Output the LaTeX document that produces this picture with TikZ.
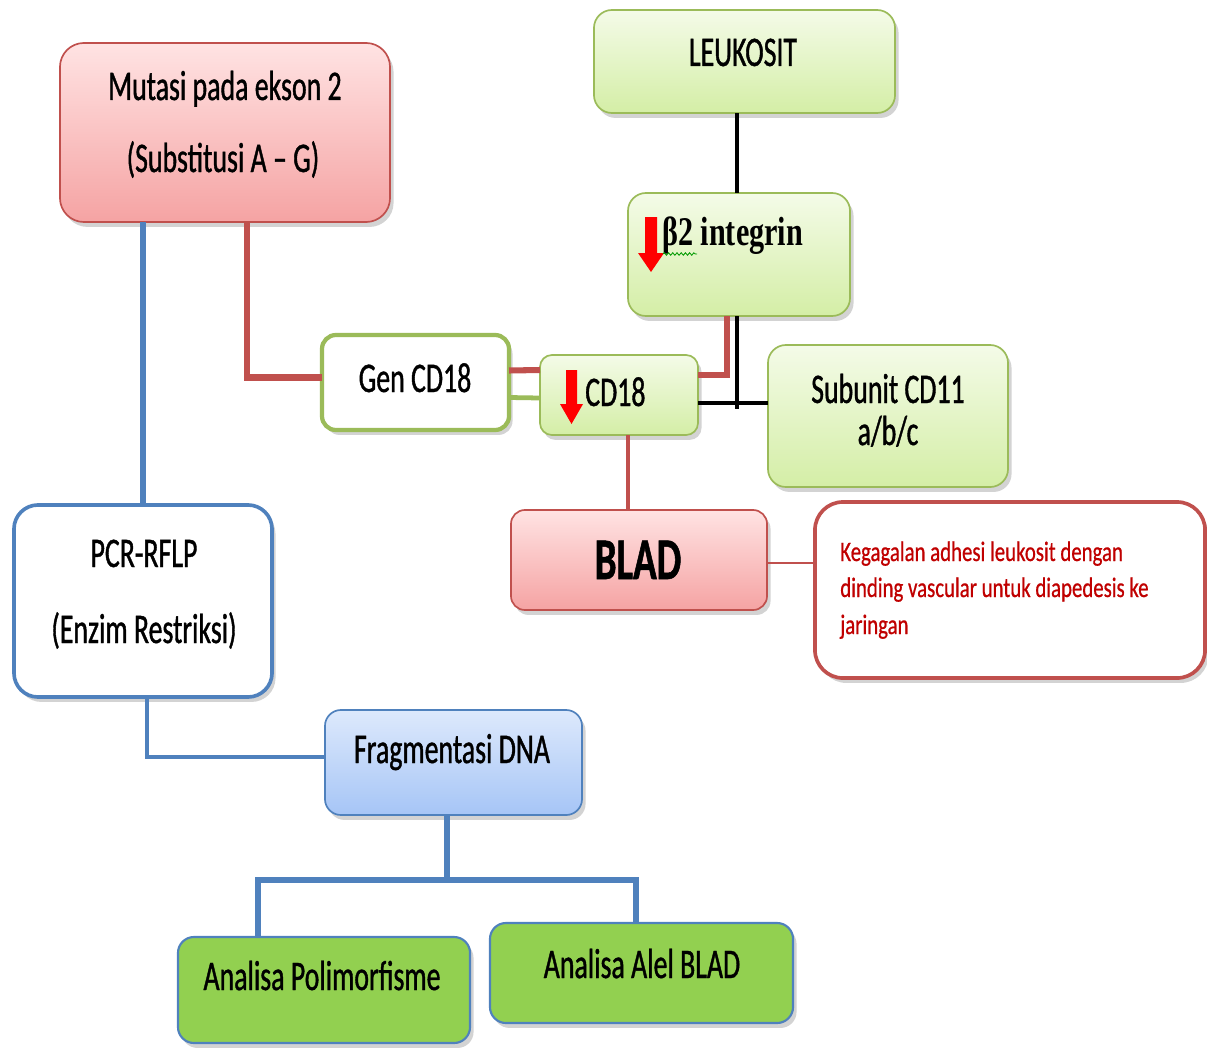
\documentclass[tikz,border=0pt]{standalone}
\usepackage{fontspec}
\setmainfont{Carlito}
\newfontfamily\calfont{Carlito}[FakeStretch=0.66, FakeBold=0.9]
\newfontfamily\calsmall{Carlito}[FakeStretch=0.74, FakeBold=0.6]
\newfontfamily\serffont{Liberation Serif}[FakeStretch=0.74]
\usetikzlibrary{shadows,calc,decorations.pathmorphing}
\definecolor{pinkT}{HTML}{FFE3E3}
\definecolor{pinkB}{HTML}{F5A3A3}
\definecolor{redB}{HTML}{C0504D}
\definecolor{grnT}{HTML}{F4FBE8}
\definecolor{grnB}{HTML}{D4EEA6}
\definecolor{grnBd}{HTML}{9BBB59}
\definecolor{bluT}{HTML}{DDE9FC}
\definecolor{bluB}{HTML}{A6C5F6}
\definecolor{bluBd}{HTML}{4F81BD}
\definecolor{limeF}{HTML}{92D050}
\definecolor{txtred}{HTML}{C00000}
\tikzset{
  boxbase/.style={rounded corners=0.45cm, inner sep=0pt, outer sep=0pt,
    drop shadow={opacity=0.35, shadow xshift=2.5pt, shadow yshift=-3.5pt}},
  pinkbox/.style={boxbase, draw=redB, line width=1.2pt, top color=pinkT, bottom color=pinkB},
  greenbox/.style={boxbase, draw=grnBd, line width=1.2pt, top color=grnT, bottom color=grnB},
  bluebox/.style={boxbase, draw=bluBd, line width=1.2pt, top color=bluT, bottom color=bluB},
  limebox/.style={boxbase, draw=bluBd, line width=1.5pt, fill=limeF},
  whitegreen/.style={boxbase, draw=grnBd, line width=3pt, fill=white},
  whiteblue/.style={boxbase, draw=bluBd, line width=2.6pt, fill=white},
  whitered/.style={boxbase, draw=redB, line width=2.6pt, fill=white},
  lbl/.style={font=\calfont\fontsize{30}{36}\selectfont, inner sep=0pt, anchor=base},
  redtxt/.style={font=\calsmall\fontsize{20}{26}\selectfont, text=txtred, inner sep=0pt, anchor=base west},
  redline/.style={draw=redB, line width=4.3pt},
  blueline/.style={draw=bluBd, line width=3.6pt},
  blkline/.style={draw=black, line width=2.3pt},
  downarrow/.style={fill=red, draw=none},
}
\begin{document}
\begin{tikzpicture}[x=0.025cm,y=-0.025cm]
\useasboundingbox (0,0) rectangle (1207,1057);
% boxes
\node[pinkbox, minimum width=8.25cm, minimum height=4.475cm, rounded corners=0.6cm] (mut) at (225,132.5) {};
\node[greenbox, minimum width=7.525cm, minimum height=2.575cm] (leuk) at (744.5,61.5) {};
\node[greenbox, minimum width=5.55cm, minimum height=3.075cm] (beta) at (739,254.5) {};
\node[whitegreen, minimum width=4.675cm, minimum height=2.375cm, rounded corners=0.35cm] (gen) at (415.5,382.5) {};
\node[greenbox, minimum width=3.95cm, minimum height=2.0cm, rounded corners=0.3cm] (cd) at (619,395) {};
\node[greenbox, minimum width=6.0cm, minimum height=3.55cm] (sub) at (888,416) {};
\node[pinkbox, minimum width=6.4cm, minimum height=2.5cm, rounded corners=0.35cm] (blad) at (639,560) {};
\node[whitered, minimum width=9.75cm, minimum height=4.4cm, rounded corners=0.7cm] (keg) at (1010,590) {};
\node[whiteblue, minimum width=6.45cm, minimum height=4.8cm, rounded corners=0.6cm] (pcr) at (143,601) {};
\node[bluebox, minimum width=6.425cm, minimum height=2.625cm, rounded corners=0.4cm] (frag) at (453.5,762.5) {};
\node[limebox, minimum width=7.3cm, minimum height=2.65cm, rounded corners=0.4cm] (poly) at (324,990) {};
\node[limebox, minimum width=7.575cm, minimum height=2.5cm, rounded corners=0.4cm] (alel) at (641.5,973) {};
% connectors
\draw[blueline] (pcr.north |- mut.south) -- (pcr.north);
\draw[redline] ($(mut.south)+(22,0)$) |- ($(gen.west)+(0,-5)$);
\draw[redline] ($(gen.east)+(0,-12)$) -- ($(cd.west)+(0,-25)$);
\draw[draw=grnBd, line width=3.4pt] ($(gen.east)+(0,15)$) -- ($(cd.west)+(0,3)$);
\draw[redline] ($(cd.east)+(0,-20)$) -| ($(beta.south)+(-12,0)$);
\draw[blkline] ($(leuk.south)+(-7.5,0)$) -- ($(beta.north)+(-2,0)$);
\draw[blkline] ($(beta.south)+(-2,0)$) -- ++(0,93);
\draw[blkline] ($(cd.east)+(0,8)$) -- ($(sub.west)+(0,-13)$);
\draw[draw=redB, line width=2.8pt] ($(cd.south)+(9,0)$) -- ($(blad.north)+(-11,0)$);
\draw[draw=redB, line width=1.2pt] ($(blad.east)+(0,3)$) -- ($(keg.west)+(0,-27)$);
\draw[blueline, line width=3.4pt] ($(pcr.south)+(4,0)$) |- ($(frag.west)+(0,-5.5)$);
\coordinate (br) at (447,880);
\draw[blueline, line width=4.6pt] ($(frag.south)+(-6.5,0)$) -- (br);
\draw[blueline, line width=4.6pt] ($(poly.north)+(-66,0)$) |- (br) -| ($(alel.north)+(-5.5,0)$);
% texts
\node[lbl] (t1) at (225,100) {Mutasi pada ekson 2};
\node[lbl] (t2) at (223,172) {(Substitusi A – G)};
\node[lbl] (t3) at (743,66) {LEUKOSIT};
\node[font=\serffont\bfseries\fontsize{29}{34}\selectfont, inner sep=0pt, anchor=base west] (t4) at (662,245) {β2 integrin};
\node[lbl] (t5) at (415,392) {Gen CD18};
\node[lbl, anchor=base west] (t6) at (585,406) {CD18};
\node[lbl] (t7) at (888,403) {Subunit CD11};
\node[lbl] (t8) at (888,445) {a/b/c};
\node[lbl, font=\calfont\bfseries\fontsize{42}{48}\selectfont] (t9) at (638,579) {BLAD};
\node[redtxt] (t10) at (840,561) {Kegagalan adhesi leukosit dengan};
\node[redtxt] (t11) at (840,597) {dinding vascular untuk diapedesis ke};
\node[redtxt] (t12) at (840,634) {jaringan};
\node[lbl] (t13) at (144,567) {PCR-RFLP};
\node[lbl] (t14) at (144,643) {(Enzim Restriksi)};
\node[lbl] (t15) at (452,763) {Fragmentasi DNA};
\node[lbl] (t16) at (322,990) {Analisa Polimorfisme};
\node[lbl] (t17) at (642,978) {Analisa Alel BLAD};
% red down arrows
\fill[downarrow] (645,217) -- (657,217) -- (657,253) -- (664,253) -- (651,272) -- (638,253) -- (645,253) -- cycle;
\fill[downarrow] (566,370) -- (577,370) -- (577,404) -- (583,404) -- (571.5,424) -- (560,404) -- (566,404) -- cycle;
% spell-check squiggle
\draw[draw=green!60!black, line width=0.6pt, decorate, decoration={snake, amplitude=0.9pt, segment length=3pt}] (663,254) -- (697,254);
\end{tikzpicture}
\end{document}
